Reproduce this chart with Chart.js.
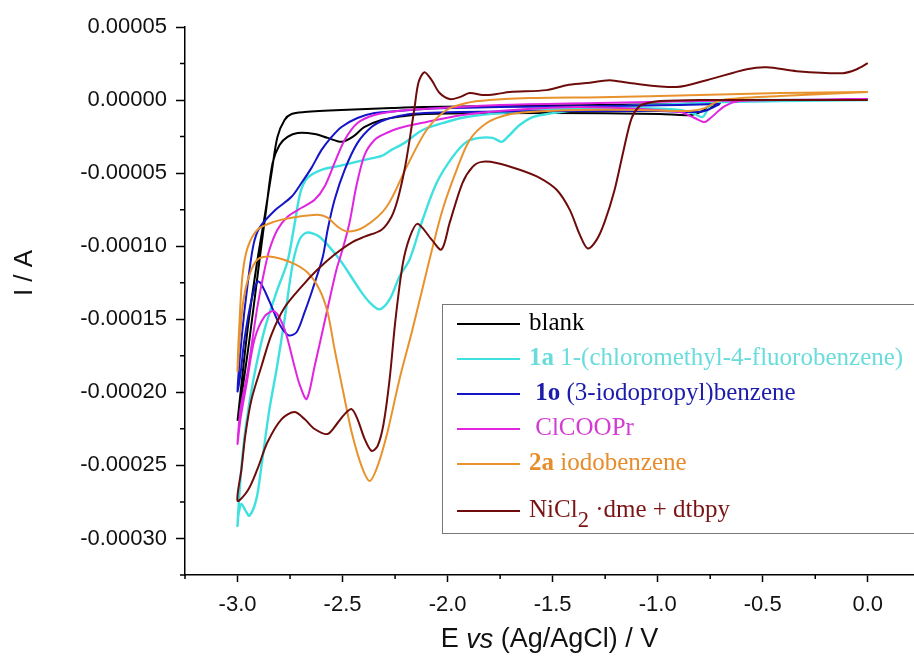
<!DOCTYPE html>
<html>
<head>
<meta charset="utf-8">
<script src="https://cdn.jsdelivr.net/npm/chart.js@4"></script>
<style>
  html,body{margin:0;padding:0;background:#fff;overflow:hidden;}
  #wrap{position:relative;width:914px;height:661px;}
  #legend{position:absolute;left:442px;top:304px;width:500px;height:230px;border:1.5px solid #777;box-sizing:border-box;
    font-family:"Liberation Serif","Times New Roman",serif;font-size:25px;}
  #legend .row{position:absolute;left:0;height:30px;line-height:30px;white-space:nowrap;}
  #legend .sw{position:absolute;left:14px;top:14px;width:63px;height:2px;}
  #legend .tx{position:absolute;left:86px;top:-2px;}
  #legend sub{font-size:0.9em;vertical-align:-0.45em;line-height:0;}
</style>
</head>
<body>
<div id="wrap">
  <canvas id="cv" width="914" height="661"></canvas>
  <div id="legend"></div>
</div>
<script>
// axis ticks
const xTicks = [-3.0,-2.5,-2.0,-1.5,-1.0,-0.5,0.0];
const xMinor = [-3.25,-2.75,-2.25,-1.75,-1.25,-0.75,-0.25];
const yTicks = [0.00005,0,-0.00005,-0.0001,-0.00015,-0.0002,-0.00025,-0.0003];
const yMinor = [0.000025,-0.000025,-0.000075,-0.000125,-0.000175,-0.000225,-0.000275,-0.000325];

// potentials in V, currents in uA (one full sweep each)
const blankE = [-3.000,-2.952,-2.905,-2.871,-2.838,-2.810,-2.776,-2.743,-2.681,-2.505,-2.267,-2.110,-1.752,-1.276,-0.895,-0.705,
  -0.776,-0.838,-0.990,-1.514,-2.110,-2.205,-2.314,-2.395,-2.452,-2.505,-2.571,-2.633,-2.714,-2.762,-2.800,-2.833,-2.862,-2.895,-2.943,-2.990,-3.000];
const blankI = [-219.6,-156.9,-109.1,-79.8,-49.8,-25.2,-13.6,-9.5,-8.2,-6.8,-5.5,-4.8,-4.1,-3.4,-2.7,-2.0,
  -6.8,-10.2,-9.5,-8.9,-9.5,-10.9,-13.6,-18.4,-25.2,-28.6,-25.9,-23.2,-22.5,-25.2,-30.7,-43.0,-73.0,-109.1,-163.7,-211.5,-219.6];

const fbE = [0.000,-0.419,-0.705,-0.752,-0.786,-0.824,-0.895,-1.086,-1.371,-1.500,-1.595,-1.657,-1.714,-1.743,-1.786,-1.848,-1.910,-1.976,
  -2.052,-2.119,-2.181,-2.229,-2.276,-2.324,-2.371,-2.419,-2.514,-2.610,-2.671,-2.705,-2.738,-2.776,-2.814,-2.848,-2.886,-2.910,-2.943,-2.962,-2.981,-2.995,-3.000,
  -2.986,-2.962,-2.924,-2.871,-2.810,-2.762,-2.729,-2.700,-2.667,-2.600,-2.514,-2.395,-2.314,-2.267,-2.205,-2.119,-2.005,-1.910,-1.752,-1.562,-1.276,-0.895,-0.705,-0.419,0.000];
const fbI = [0,0,-0.7,-4.1,-11.6,-9.5,-6.8,-5.5,-6.8,-8.9,-11.6,-17.1,-25.2,-28.6,-25.9,-25.9,-28.6,-38.9,
  -56.6,-81.9,-109.1,-120.7,-136.4,-143.2,-138.5,-129.6,-109.1,-93.5,-90.7,-95.5,-112.6,-150.1,-184.2,-211.5,-250.3,-272.9,-284.4,-281.0,-276.3,-283.1,-291.3,
  -259.2,-225.1,-191.0,-156.9,-129.6,-110.5,-85.3,-62.8,-53.2,-47.7,-45.0,-40.9,-38.2,-34.1,-29.3,-20.5,-15.0,-11.6,-8.9,-6.8,-4.8,-2.7,-1.4,-0.7,0];

const ipbE = [-0.705,-0.762,-0.810,-0.990,-1.514,-1.943,-2.110,-2.205,-2.300,-2.362,-2.429,-2.490,-2.538,-2.571,-2.595,-2.643,-2.681,-2.719,-2.757,
  -2.800,-2.848,-2.886,-2.905,-2.933,-2.967,-2.986,-3.000,
  -2.981,-2.952,-2.924,-2.895,-2.824,-2.743,-2.695,-2.648,-2.600,-2.552,-2.505,-2.429,-2.348,-2.238,-2.110,-1.752,-1.276,-0.895,-0.705];
const ipbI = [-2.7,-6.8,-8.2,-7.5,-7.5,-8.2,-8.9,-10.2,-13.6,-18.4,-29.3,-47.7,-68.2,-88.7,-107.8,-129.6,-145.3,-158.9,-161.0,
  -153.5,-137.8,-126.2,-124.1,-136.4,-163.7,-187.6,-199.2,
  -163.7,-126.2,-98.9,-87.3,-75.7,-66.2,-56.6,-46.4,-34.1,-25.2,-18.4,-12.3,-8.9,-7.5,-6.1,-4.8,-4.1,-3.4,-2.7];

const clE = [0.000,-0.419,-0.610,-0.681,-0.743,-0.776,-0.824,-0.895,-1.371,-1.690,-1.929,-2.100,-2.229,-2.300,-2.348,-2.395,-2.433,-2.467,-2.500,
  -2.529,-2.586,-2.633,-2.671,-2.705,-2.729,-2.776,-2.824,-2.871,-2.919,-2.957,-2.986,-3.000,
  -2.986,-2.952,-2.929,-2.905,-2.876,-2.848,-2.810,-2.762,-2.695,-2.633,-2.586,-2.538,-2.490,-2.429,-2.348,-2.238,-2.110,-1.752,-1.276,-0.800,0.000];
const clI = [0.7,0,-0.7,-4.1,-11.6,-15.0,-12.3,-8.2,-4.8,-6.8,-10.2,-15.0,-19.1,-23.2,-27.3,-37.5,-58.0,-83.9,-102.3,
  -116.0,-152.1,-182.1,-204.6,-194.4,-182.1,-156.9,-144.6,-148.0,-163.7,-194.4,-218.3,-235.3,
  -211.5,-186.2,-163.7,-141.2,-119.4,-102.3,-88.7,-79.8,-73.7,-68.2,-59.3,-43.0,-27.3,-15.7,-10.2,-7.5,-6.1,-3.4,-2.0,-0.7,0.7];

const ibE = [0.000,-0.419,-0.695,-0.776,-0.848,-1.086,-1.371,-1.610,-1.719,-1.814,-1.895,-1.957,-2.024,-2.086,-2.167,-2.229,-2.286,-2.333,-2.371,
  -2.410,-2.457,-2.490,-2.538,-2.571,-2.610,-2.667,-2.743,-2.848,-2.905,-2.943,-2.971,-2.990,-3.000,
  -2.990,-2.976,-2.952,-2.905,-2.824,-2.743,-2.619,-2.571,-2.524,-2.476,-2.395,-2.290,-2.195,-2.100,-2.005,-1.910,-1.800,-1.610,-1.276,-0.800,-0.419,0.000];
const ibI = [5.5,2.7,0,-5.5,-7.5,-6.8,-6.8,-8.2,-10.2,-15.7,-27.3,-47.7,-75.0,-109.1,-156.9,-191.0,-227.1,-250.3,-260.6,
  -250.3,-227.1,-204.6,-170.5,-145.3,-129.6,-118.0,-111.2,-107.1,-109.1,-119.4,-136.4,-163.7,-185.5,
  -150.1,-119.4,-101.0,-88.7,-83.2,-80.5,-78.4,-80.5,-86.6,-90.0,-86.6,-73.0,-45.7,-20.5,-6.8,-2.0,0,1.4,2.0,3.4,4.8,5.5];

const niE = [0.000,-0.419,-0.800,-0.990,-1.048,-1.086,-1.124,-1.162,-1.205,-1.252,-1.290,-1.333,-1.371,-1.419,-1.481,-1.562,-1.657,-1.767,-1.838,
  -1.881,-1.929,-1.990,-2.029,-2.076,-2.143,-2.181,-2.214,-2.248,-2.276,-2.305,-2.333,-2.362,-2.395,-2.429,-2.457,-2.490,-2.524,-2.571,-2.633,
  -2.681,-2.729,-2.790,-2.857,-2.905,-2.952,-3.000,
  -2.981,-2.962,-2.933,-2.886,-2.838,-2.776,-2.695,-2.619,-2.538,-2.457,-2.395,-2.314,-2.267,-2.238,-2.205,-2.181,-2.157,-2.138,-2.110,-2.076,
  -2.038,-1.990,-1.943,-1.895,-1.833,-1.767,-1.705,-1.529,-1.433,-1.338,-1.229,-1.133,-0.910,-0.767,-0.576,-0.481,-0.338,-0.119,-0.052,0.000];
const niI = [0,0,0,-0.7,-2.0,-4.1,-12.3,-34.1,-61.4,-83.2,-95.5,-101.6,-92.1,-75.0,-61.4,-53.2,-47.7,-43.0,-42.3,
  -45.7,-56.6,-83.9,-102.3,-95.5,-84.6,-94.1,-112.6,-150.1,-191.0,-221.7,-236.7,-240.1,-231.9,-218.3,-211.5,-214.9,-221.0,-228.5,-225.1,
  -218.3,-213.5,-218.3,-234.0,-252.4,-267.4,-274.2,
  -252.4,-228.5,-204.6,-182.1,-160.3,-141.9,-127.6,-116.0,-105.7,-97.5,-93.5,-88.7,-79.8,-68.2,-47.7,-27.3,-4.8,12.3,19.1,13.6,
  4.8,0.7,2.0,4.8,3.4,4.1,5.5,6.8,10.2,11.6,13.6,11.6,8.9,13.6,21.1,22.5,19.8,18.4,21.1,25.2];

const series = [
  {E: blankE, I: blankI, color: '#000000', text: '#000000', label: 'blank'},
  {E: fbE,    I: fbI,    color: '#3ee0e0', text: '#6adcdc', label: '<b>1a</b> 1-(chloromethyl-4-fluorobenzene)'},
  {E: ipbE,   I: ipbI,   color: '#1414c8', text: '#1c1caa', label: '&nbsp;<b>1o</b> (3-iodopropyl)benzene'},
  {E: clE,    I: clI,    color: '#e024e0', text: '#d23cd2', label: '&nbsp;ClCOOPr'},
  {E: ibE,    I: ibI,    color: '#e8922e', text: '#e68c2c', label: '<b>2a</b> iodobenzene'},
  {E: niE,    I: niI,    color: '#6e0c0c', text: '#7a1414', label: 'NiCl<sub>2</sub> &middot;dme + dtbpy'}
];
const legendRowY = [19, 54, 89, 124, 159, 206];

const FONT = '"Liberation Sans", Arial, sans-serif';

// short minor ticks between the labelled ones
const minorTicks = {
  id: 'minorTicks',
  afterDraw(chart){
    const {ctx, chartArea: a, scales: {x, y}} = chart;
    ctx.save();
    ctx.strokeStyle = '#000'; ctx.lineWidth = 1.5;
    ctx.beginPath();
    xMinor.forEach(v => { const px = x.getPixelForValue(v); ctx.moveTo(px, a.bottom); ctx.lineTo(px, a.bottom + 4); });
    yMinor.forEach(v => { const py = y.getPixelForValue(v); ctx.moveTo(a.left, py); ctx.lineTo(a.left - 5, py); });
    ctx.stroke();
    ctx.restore();
  }
};

// axis titles, "vs" in italics
const axisTitles = {
  id: 'axisTitles',
  afterDraw(chart){
    const {ctx, chartArea: a} = chart;
    const f = s => `${s}27px ${FONT}`;
    const parts = [['E ', ''], ['vs', 'italic '], [' (Ag/AgCl) / V', '']];
    ctx.save();
    ctx.fillStyle = '#111'; ctx.textBaseline = 'middle'; ctx.textAlign = 'left';
    let w = 0;
    parts.forEach(([t, s]) => { ctx.font = f(s); w += ctx.measureText(t).width; });
    let px = (a.left + a.right) / 2 - w / 2;
    parts.forEach(([t, s]) => { ctx.font = f(s); ctx.fillText(t, px, 640); px += ctx.measureText(t).width; });
    ctx.translate(25, 273); ctx.rotate(-Math.PI / 2);
    ctx.font = `26px ${FONT}`; ctx.textAlign = 'center';
    ctx.fillText('I / A', 0, 0);
    ctx.restore();
  }
};

const datasets = series.map((s, i) => ({
  label: s.label,
  data: s.E.map((e, k) => ({x: e, y: s.I[k] * 1e-6})),
  borderColor: s.color,
  borderWidth: i === 1 ? 2.4 : 2,
  pointRadius: 0,
  tension: 0.3,
  fill: false,
  order: series.length - i
}));

new Chart(document.getElementById('cv'), {
  type: 'line',
  data: {datasets},
  options: {
    responsive: false,
    animation: false,
    layout: {padding: {top: 27, right: 0, bottom: 0, left: 0}},
    plugins: {legend: {display: false}, tooltip: {enabled: false}},
    scales: {
      x: {
        type: 'linear', min: -3.25, max: 0.22,
        afterBuildTicks: s => { s.ticks = xTicks.map(v => ({value: v})); },
        afterFit: s => { s.height = 86; },
        ticks: {font: {family: FONT, size: 22}, color: '#111', padding: 10, maxRotation: 0, autoSkip: false,
                callback: v => Number(v).toFixed(1)},
        grid: {drawOnChartArea: false, tickLength: 7, tickWidth: 1.5, tickColor: '#000'},
        border: {color: '#000', width: 1.5}
      },
      y: {
        min: -0.000325, max: 0.00005,
        afterBuildTicks: s => { s.ticks = yTicks.map(v => ({value: v})); },
        afterFit: s => { s.width = 185; },
        ticks: {font: {family: FONT, size: 22}, color: '#111', padding: 9, autoSkip: false,
                callback: v => Number(v).toFixed(5)},
        grid: {drawOnChartArea: false, tickLength: 9, tickWidth: 1.5, tickColor: '#000'},
        border: {color: '#000', width: 1.5}
      }
    }
  },
  plugins: [minorTicks, axisTitles]
});

// legend box with formatted labels
const legend = document.getElementById('legend');
series.forEach((s, i) => {
  const row = document.createElement('div');
  row.className = 'row';
  row.style.top = (legendRowY[i] - 15) + 'px';
  row.innerHTML = `<span class="sw" style="background:${s.color}"></span><span class="tx" style="color:${s.text}">${s.label}</span>`;
  legend.appendChild(row);
});
</script>
</body>
</html>
